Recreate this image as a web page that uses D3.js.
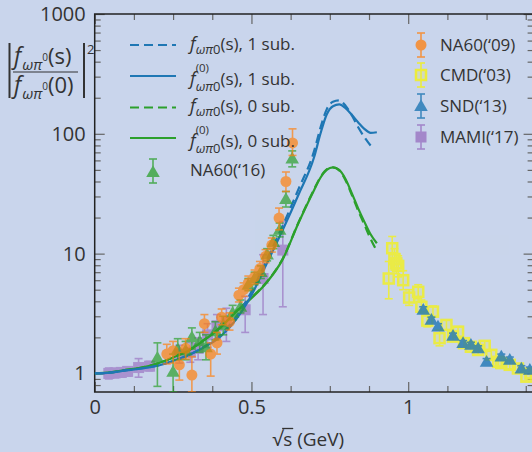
<!DOCTYPE html>
<html><head><meta charset="utf-8">
<script src="https://cdn.jsdelivr.net/npm/d3@7"></script>
<style>
html,body{margin:0;padding:0;background:#c9d5ec;overflow:hidden;}
svg{display:block;font-family:"Open Sans",sans-serif;}
</style>
</head><body>
<svg id="c" width="532" height="452"></svg>
<script>
// ---------------- data ----------------
const sCurve = [0,0.05,0.1,0.15,0.2,0.25,0.3,0.35,0.4,0.45,0.5,0.55,0.6,0.65,0.7,0.72,0.74,0.76,0.78,0.8,0.82,0.84,0.86,0.88,0.9];
const sCurveDash1 = [0,0.05,0.1,0.15,0.2,0.25,0.3,0.35,0.4,0.45,0.5,0.55,0.6,0.65,0.7,0.72,0.74,0.76,0.78,0.8,0.82,0.84,0.86,0.88,0.89];
const blueSolid  = [1,1.015,1.06,1.10,1.16,1.27,1.42,1.66,2.02,2.8,4.5,8.4,15.8,31,64,100,145,170,176,164,144,125,110,102,103];
const blueDashed = [1,1.015,1.06,1.10,1.16,1.27,1.43,1.68,2.08,2.95,4.8,9.0,17.2,34.5,72,112,160,185,190,172,143,114,94,80,75];
const greenSolid  = [1,1.02,1.07,1.12,1.21,1.36,1.55,1.9,2.4,3.25,4.25,5.8,9.0,18,34,43,50,52.5,50,42,32,24,18.5,14.5,12.2];
const greenDashed = [1,1.02,1.07,1.12,1.21,1.36,1.56,1.92,2.42,3.28,4.3,5.85,9.1,18.2,34.5,43.5,50.5,52.5,49.5,41,31,23,17.5,13.3,10.5];

// [sqrt(s), value, low, high]
const mami17 = [
[0.045,1.00,0.90,1.11],[0.065,1.01,0.92,1.10],[0.085,1.02,0.93,1.11],[0.105,1.04,0.95,1.13],
[0.14,1.12,0.93,1.33],[0.175,1.15,1.05,1.26],[0.27,1.45,1.22,1.72],[0.305,1.50,1.24,1.80],
[0.33,1.62,1.30,1.98],[0.36,2.10,1.65,2.60],[0.39,2.50,1.95,3.10],[0.42,2.70,1.85,3.50],
[0.48,3.40,2.20,4.40],[0.537,6.2,3.1,9.8],[0.60,10.7,3.6,18.5]];
const na60_09 = [
[0.23,1.45,1.20,1.75],[0.25,1.55,1.22,1.85],[0.27,1.18,0.88,1.50],[0.29,1.62,1.32,1.95],
[0.31,0.97,0.70,1.38],[0.35,2.60,2.20,3.10],[0.37,1.45,0.95,1.80],[0.39,1.80,1.45,2.20],
[0.405,2.95,2.55,3.45],[0.43,2.70,2.30,3.20],[0.46,4.50,3.95,5.15],[0.475,5.00,4.40,5.70],
[0.49,5.70,5.00,6.50],[0.51,6.40,5.60,7.30],[0.527,7.50,6.60,8.60],[0.545,9.5,8.4,10.8],
[0.565,11.8,10.3,13.5],[0.588,19.8,15.8,24.0],[0.61,40,33,48],[0.631,84,66,110]];
const na60_16 = [
[0.20,1.35,0.78,1.80],[0.25,1.03,0.70,1.45],[0.265,1.60,1.30,1.95],[0.29,1.55,1.30,1.85],
[0.31,2.00,1.60,2.40],[0.335,1.85,1.50,2.20],[0.355,1.65,1.30,2.10],[0.385,2.25,1.90,2.70],
[0.41,2.55,2.10,3.00],[0.44,3.20,2.80,3.70],[0.465,3.60,3.20,4.10],[0.49,5.50,4.90,6.20],
[0.51,6.20,5.50,7.00],[0.53,7.00,6.20,7.90],[0.55,9.80,8.70,11.0],[0.57,12.5,11.0,14.2],
[0.59,15.8,13.8,18.0],[0.61,28.5,24.5,33.0],[0.63,62,53,72]];
const cmd03 = [
[0.938,6.2,4.2,8.6],[0.949,11.1,8.6,13.9],[0.956,9.0,7.3,11.0],[0.962,8.3,6.8,10.0],
[0.968,7.9,6.4,9.6],[0.984,6.0,5.0,7.2],[1.003,4.3,3.7,5.0],[1.032,4.8,4.2,5.5],
[1.042,3.6,3.2,4.1],[1.061,2.76,2.45,3.1],[1.079,3.28,2.95,3.65],[1.10,1.97,1.7,2.3],
[1.122,2.54,2.3,2.8],[1.143,2.03,1.85,2.25],[1.159,2.23,2.02,2.46],[1.178,1.79,1.63,1.97],
[1.20,1.67,1.52,1.83],[1.223,1.57,1.43,1.72],[1.244,1.70,1.55,1.86],[1.265,1.43,1.31,1.56],
[1.287,1.25,1.15,1.36],[1.297,1.22,1.12,1.33],[1.324,1.18,1.09,1.28],[1.35,1.10,1.01,1.20],
[1.377,0.94,0.86,1.03],[1.39,1.0,0.92,1.09]];
const snd13 = [
[1.048,3.39,3.2,3.6],[1.074,2.80,2.65,2.95],[1.095,2.46,2.33,2.6],[1.143,2.06,1.95,2.17],
[1.175,1.79,1.70,1.88],[1.20,1.73,1.64,1.82],[1.223,1.62,1.54,1.70],[1.25,1.25,1.17,1.33],
[1.297,1.38,1.31,1.45],[1.324,1.30,1.23,1.37],[1.361,1.10,1.04,1.16],[1.388,1.07,1.01,1.13]];

const xMajor = [0, 0.5, 1];
const xMinor = [0.125,0.25,0.375,0.625,0.75,0.875,1.125,1.25,1.375];
const yMajor = [1, 10, 100, 1000];
const yMinor = [0.8,0.9,2,3,4,5,6,7,8,9,20,30,40,50,60,70,80,90,200,300,400,500,600,700,800,900];
const xTickLabels = ["0","0.5","1"];
const yTickLabels = ["1","10","100","1000"];

// ---------------- colors ----------------
const C = {blue:"#1f77b4", green:"#2ca02c", orange:"#ff7f0e", purple:"#9467bd", yellow:"#f0ef2a", ink:"#333"};

// ---------------- scales ----------------
const svg = d3.select("#c");
const x = d3.scaleLinear().domain([0,1.4]).range([94.7,533.6]);
const y = d3.scaleLog().domain([0.7,1000]).range([392,14]);
const L = x.range()[0], R = x.range()[1], T = y.range()[1], B = y.range()[0];

svg.append("defs").append("clipPath").attr("id","clip")
  .append("rect").attr("x",L).attr("y",T).attr("width",R-L).attr("height",B-T);

// ---------------- axes ----------------
function styleAxis(g){
  g.select(".domain").remove();
  g.selectAll(".tick line").attr("stroke","#666").attr("stroke-width",1.2);
  g.selectAll(".tick text").attr("fill",C.ink).style("font-size","20px").style("font-family","Open Sans");
}
svg.append("g").attr("transform",`translate(0,${B})`)
  .call(d3.axisBottom(x).tickValues(xMajor).tickSizeInner(-10).tickSizeOuter(0).tickPadding(8)
        .tickFormat((d,i)=>xTickLabels[i])).call(styleAxis);
svg.append("g").attr("transform",`translate(0,${B})`)
  .call(d3.axisBottom(x).tickValues(xMinor).tickSizeInner(-6).tickSizeOuter(0).tickFormat("")).call(styleAxis);
svg.append("g").attr("transform",`translate(0,${T})`)
  .call(d3.axisTop(x).tickValues(xMajor).tickSizeInner(-10).tickSizeOuter(0).tickFormat("")).call(styleAxis);
svg.append("g").attr("transform",`translate(0,${T})`)
  .call(d3.axisTop(x).tickValues(xMinor).tickSizeInner(-6).tickSizeOuter(0).tickFormat("")).call(styleAxis);
svg.append("g").attr("transform",`translate(${L},0)`)
  .call(d3.axisLeft(y).tickValues(yMajor).tickSizeInner(-10).tickSizeOuter(0).tickPadding(9)
        .tickFormat((d,i)=>yTickLabels[i])).call(styleAxis);
svg.append("g").attr("transform",`translate(${L},0)`)
  .call(d3.axisLeft(y).tickValues(yMinor).tickSizeInner(-6).tickSizeOuter(0).tickFormat("")).call(styleAxis);
svg.append("g").attr("transform",`translate(${R},0)`)
  .call(d3.axisRight(y).tickValues(yMajor).tickSizeInner(-10).tickSizeOuter(0).tickFormat("")).call(styleAxis);
svg.append("g").attr("transform",`translate(${R},0)`)
  .call(d3.axisRight(y).tickValues(yMinor).tickSizeInner(-6).tickSizeOuter(0).tickFormat("")).call(styleAxis);

svg.append("rect").attr("x",L).attr("y",T).attr("width",R-L).attr("height",B-T)
  .attr("fill","none").attr("stroke","#222").attr("stroke-width",1.5);

// ---------------- helpers ----------------
const plot = svg.append("g").attr("clip-path","url(#clip)");

function errbars(g, data, color, op){
  const eg = g.append("g").attr("opacity",op);
  data.forEach(d=>{
    const cx = x(d[0]);
    eg.append("line").attr("x1",cx).attr("x2",cx).attr("y1",y(d[2])).attr("y2",y(d[3]))
      .attr("stroke",color).attr("stroke-width",1.6);
    [d[2],d[3]].forEach(v=>eg.append("line").attr("x1",cx-4).attr("x2",cx+4).attr("y1",y(v)).attr("y2",y(v))
      .attr("stroke",color).attr("stroke-width",1.6));
  });
  return eg;
}
function marker(g, type, cx, cy, color){
  if(type==="circle") g.append("circle").attr("cx",cx).attr("cy",cy).attr("r",5.5).attr("fill",color);
  else if(type==="tri") g.append("path").attr("d",d3.symbol(d3.symbolTriangle,80)()).attr("transform",`translate(${cx},${cy+1})`).attr("fill",color);
  else if(type==="square") g.append("rect").attr("x",cx-5.5).attr("y",cy-5.5).attr("width",11).attr("height",11).attr("fill",color);
  else if(type==="open") g.append("rect").attr("x",cx-5).attr("y",cy-5).attr("width",10).attr("height",10)
      .attr("fill",color).attr("fill-opacity",0.25).attr("stroke",color).attr("stroke-width",2.5);
}
function series(data, type, color, op){
  const eg = errbars(plot, data, color, op);
  data.forEach(d=>marker(eg, type, x(d[0]), y(d[1]), color));
}
function curve(sArr, vArr, color, dashed){
  const line = d3.line().x(d=>x(d[0])).y(d=>y(d[1])).curve(d3.curveMonotoneX);
  plot.append("path").datum(sArr.map((s,i)=>[s,vArr[i]])).attr("d",line)
    .attr("fill","none").attr("stroke",color).attr("stroke-width",2.2)
    .attr("stroke-dasharray",dashed?"9,5":null);
}

// ---------------- marks ----------------
series(mami17,"square",C.purple,0.6);
curve(sCurve, greenSolid, C.green, false);
curve(sCurve, greenDashed, C.green, true);
curve(sCurve, blueSolid, C.blue, false);
curve(sCurveDash1, blueDashed, C.blue, true);
series(na60_16,"tri",C.green,0.7);
series(na60_09,"circle",C.orange,0.7);
series(cmd03,"open",C.yellow,0.85);
series(snd13,"tri",C.blue,0.8);

// ---------------- rich text ----------------
function rich(g, x0, y0, parts, color){
  let cx = x0, stackX = x0;
  parts.forEach(p=>{
    const px = p.back ? stackX : cx;
    const t = g.append("text").attr("x",px).attr("y",y0+(p.dy||0)).attr("fill",color||C.ink)
      .style("font-size",p.size+"px").style("font-style",p.it?"italic":"normal").text(p.t);
    const w = t.node().getComputedTextLength();
    if(p.back){ cx = Math.max(cx, stackX+w); }
    else { stackX = cx; cx += w + (p.gap||0); }
  });
  return cx - x0;
}

// y label
const yl = svg.append("g");
yl.append("line").attr("x1",9.5).attr("x2",9.5).attr("y1",43).attr("y2",98).attr("stroke",C.ink).attr("stroke-width",2);
yl.append("line").attr("x1",84).attr("x2",84).attr("y1",43).attr("y2",98).attr("stroke",C.ink).attr("stroke-width",2);
yl.append("text").attr("x",87).attr("y",54).attr("fill",C.ink).style("font-size","13px").text("2");
rich(yl, 14, 64, [{t:"f",size:23,it:true,gap:1},{t:"ωπ",size:15,it:true,dy:6},{t:"0",size:10,dy:-3},{t:"(s)",size:22}]);
yl.append("line").attr("x1",13).attr("x2",78).attr("y1",72).attr("y2",72).attr("stroke",C.ink).attr("stroke-width",1.2);
rich(yl, 14, 93, [{t:"f",size:23,it:true,gap:1},{t:"ωπ",size:15,it:true,dy:6},{t:"0",size:10,dy:-3},{t:"(0)",size:22}]);

// x label
const xl = svg.append("g");
const w1 = rich(xl, 0, 446, [{t:"√",size:20},{t:"s",size:19},{t:"\u00a0(GeV)",size:19}]);
const sNode = xl.selectAll("text").nodes()[1];
const sx = +sNode.getAttribute("x"), sw = sNode.getComputedTextLength();
xl.append("line").attr("x1",sx-1).attr("x2",sx+sw+1).attr("y1",428.5).attr("y2",428.5).attr("stroke",C.ink).attr("stroke-width",1.3);
xl.attr("transform",`translate(${(L+R)/2 - w1/2 - 6},0)`);

// legend left
const lg = svg.append("g");
const legL = [
  {c:C.blue, dash:true, ly:45, ty:50, sup:false, lab:"(s), 1 sub."},
  {c:C.blue, dash:false, ly:76, ty:85, sup:true, lab:"(s), 1 sub."},
  {c:C.green, dash:true, ly:107.5, ty:112, sup:false, lab:"(s), 0 sub."},
  {c:C.green, dash:false, ly:138, ty:147, sup:true, lab:"(s), 0 sub."}
];
legL.forEach(e=>{
  lg.append("line").attr("x1",130).attr("x2",176).attr("y1",e.ly).attr("y2",e.ly)
    .attr("stroke",e.c).attr("stroke-width",2.2).attr("stroke-dasharray",e.dash?"9,5":null);
  const parts = [{t:"f",size:18,it:true,gap:0}];
  const sd = e.sup ? 5.5 : 4;
  if(e.sup) parts.push({t:"(0)",size:11.5,dy:-13});
  parts.push({t:"ωπ",size:13,it:true,dy:sd,back:e.sup});
  parts.push({t:"0",size:13,dy:sd});
  parts.push({t:e.lab,size:17});
  rich(lg, 190, e.ty, parts);
});
{
  const eg = lg.append("g").attr("opacity",0.75);
  eg.append("line").attr("x1",153).attr("x2",153).attr("y1",159).attr("y2",183).attr("stroke",C.green).attr("stroke-width",1.6);
  [159,183].forEach(v=>eg.append("line").attr("x1",149).attr("x2",157).attr("y1",v).attr("y2",v).attr("stroke",C.green).attr("stroke-width",1.6));
  marker(eg,"tri",153,172,C.green);
  lg.append("text").attr("x",190).attr("y",176).attr("fill",C.ink).style("font-size","17px").text("NA60(‘16)");
}

// legend right
const legR = [
  {lab:"NA60(‘09)", c:C.orange, type:"circle", yy:45, op:0.75},
  {lab:"CMD(‘03)", c:C.yellow, type:"open", yy:75, op:0.9},
  {lab:"SND(‘13)", c:C.blue, type:"tri", yy:106, op:0.8},
  {lab:"MAMI(‘17)", c:C.purple, type:"square", yy:137, op:0.7}
];
legR.forEach(e=>{
  const eg = svg.append("g").attr("opacity",e.op);
  eg.append("line").attr("x1",421).attr("x2",421).attr("y1",e.yy-12).attr("y2",e.yy+12).attr("stroke",e.c).attr("stroke-width",1.6);
  [e.yy-12,e.yy+12].forEach(v=>eg.append("line").attr("x1",417).attr("x2",425).attr("y1",v).attr("y2",v).attr("stroke",e.c).attr("stroke-width",1.6));
  marker(eg,e.type,421,e.yy,e.c);
  svg.append("text").attr("x",440).attr("y",e.yy+6).attr("fill",C.ink).style("font-size","17px").text(e.lab);
});
</script>
</body></html>
